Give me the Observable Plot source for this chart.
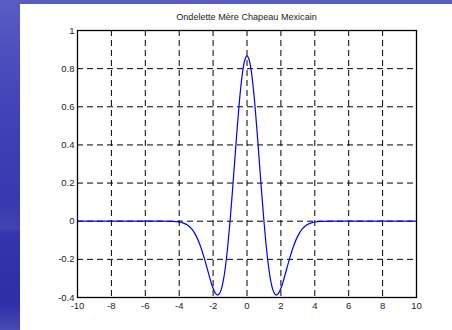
<!DOCTYPE html>
<html>
<head>
<meta charset="utf-8">
<script src="https://cdn.jsdelivr.net/npm/d3@7"></script>
<script src="https://cdn.jsdelivr.net/npm/@observablehq/plot@0.6"></script>
<style>
  html, body { margin: 0; padding: 0; }
  body { width: 452px; height: 330px; overflow: hidden; position: relative;
         background: #5a5cc6; font-family: "Liberation Sans", Arial, sans-serif; }
  #strip { position: absolute; left: 0; top: 0; width: 20px; height: 330px;
           background: linear-gradient(to bottom, #5a5cc4 0%, #4444b8 30%, #3838b0 60%, #4242b2 69%, #3434ac 71%, #2e2ea8 92%, #4a4ab4 100%); }
  #panel { position: absolute; left: 20px; top: 4px; width: 432px; height: 326px; background: #fff; }
  #title { position: absolute; left: 57px; width: 339px; top: 6px; line-height: 14px;
           text-align: center; font-size: 9.1px; color: #222; }
  #chart { position: absolute; left: 0; top: 20px; }
</style>
</head>
<body>
<div id="strip"></div>
<div id="panel">
  <div id="title">Ondelette Mère Chapeau Mexicain</div>
  <div id="chart"></div>
</div>
<script>
// Values
const xs = [-10, -8, -6, -5, -4.5, -4, -3.75, -3.5, -3.25, -3, -2.75, -2.5, -2.25, -2.125, -2, -1.875, -1.75, -1.625, -1.5, -1.375, -1.25, -1.125, -1, -0.875, -0.75, -0.625, -0.5, -0.375, -0.25, -0.125, 0,
            0.125, 0.25, 0.375, 0.5, 0.625, 0.75, 0.875, 1, 1.125, 1.25, 1.375, 1.5, 1.625, 1.75, 1.875, 2, 2.125, 2.25, 2.5, 2.75, 3, 3.25, 3.5, 3.75, 4, 4.5, 5, 6, 8, 10];
const ys = [0, 0, 0, 0, -0.001, -0.004, -0.010, -0.021, -0.042, -0.077, -0.130, -0.200, -0.280, -0.319, -0.352, -0.376, -0.387, -0.380, -0.352, -0.300, -0.223, -0.122, 0, 0.139, 0.286, 0.435, 0.574, 0.695, 0.788, 0.847, 0.867,
            0.847, 0.788, 0.695, 0.574, 0.435, 0.286, 0.139, 0, -0.122, -0.223, -0.300, -0.352, -0.380, -0.387, -0.376, -0.352, -0.319, -0.280, -0.200, -0.130, -0.077, -0.042, -0.021, -0.010, -0.004, -0.001, 0, 0, 0, 0];
const xTicks = [-10, -8, -6, -4, -2, 0, 2, 4, 6, 8, 10];
const yTicks = [-0.4, -0.2, 0, 0.2, 0.4, 0.6, 0.8, 1];
const yTickLabels = ["-0.4", "-0.2", "0", "0.2", "0.4", "0.6", "0.8", "1"];
const titleText = "Ondelette Mère Chapeau Mexicain";

const data = xs.map((x, i) => ({x, y: ys[i]}));
const xInner = xTicks.slice(1, -1);
const yInner = yTicks.slice(1, -1);

const chart = Plot.plot({
  width: 432,
  height: 306,
  marginLeft: 57,
  marginRight: 36,
  marginTop: 6,
  marginBottom: 33,
  style: {fontFamily: "Liberation Sans, Arial, sans-serif", fontSize: "9.5px", color: "#222", background: "transparent"},
  x: {domain: [-10, 10], ticks: xTicks, tickFormat: d => String(d), label: null},
  y: {domain: [-0.4, 1], ticks: yTicks, tickFormat: d => yTickLabels[yTicks.indexOf(d)] ?? "", label: null},
  marks: [
    Plot.ruleX(xInner, {stroke: "#000", strokeWidth: 1, strokeDasharray: "6,4"}),
    Plot.ruleY(yInner, {stroke: "#000", strokeWidth: 1, strokeDasharray: "6,4"}),
    Plot.line(data, {x: "x", y: "y", stroke: "#0000ff", strokeWidth: 1.2, curve: "catmull-rom"}),
    Plot.frame({stroke: "#000", strokeWidth: 1.3}),
    Plot.axisX(xTicks, {anchor: "bottom", tickSize: 0, tickPadding: 5, tickFormat: d => String(d)}),
    Plot.axisY(yTicks, {anchor: "left", tickSize: 0, tickPadding: 3, tickFormat: d => yTickLabels[yTicks.indexOf(d)]})
  ]
});
document.getElementById("chart").appendChild(chart);
document.getElementById("title").textContent = titleText;
</script>
</body>
</html>
